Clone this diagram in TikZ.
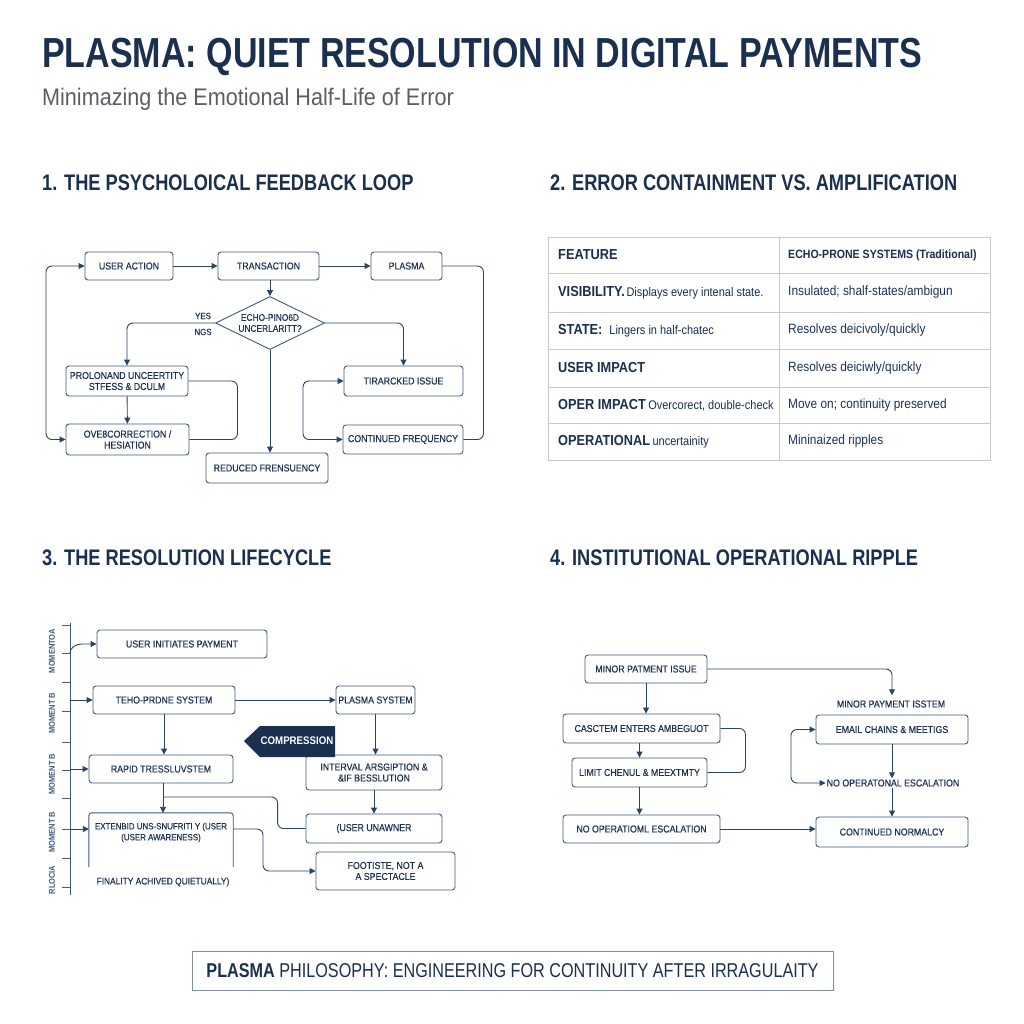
\documentclass[tikz,border=0pt]{standalone}
\usepackage{fontspec}
\setmainfont{Liberation Sans}[FakeStretch=0.88]
\newfontfamily\boxfont{Liberation Sans}[FakeStretch=0.88,FakeBold=0.35]
\newfontfamily\headfont{Liberation Sans}[FakeStretch=0.81]
\newfontfamily\subfont{Liberation Sans}[FakeStretch=0.9]
\usetikzlibrary{arrows.meta,shapes.geometric,calc}
\definecolor{navy}{HTML}{1B2F4E}
\definecolor{boxc}{HTML}{3F5B7F}
\definecolor{arrc}{HTML}{2A4466}
\definecolor{txtc}{HTML}{1E3253}
\definecolor{subc}{HTML}{5A5F66}
\definecolor{tabc}{HTML}{C4CAD2}
\definecolor{footc}{HTML}{7F8EA3}
\tikzset{
  box/.style={draw=boxc, line width=0.9pt, rounded corners=3pt, fill=white, text=txtc,
    font=\boxfont\fontsize{10}{11}\selectfont, align=center, inner sep=2pt},
  arr/.style={draw=arrc, line width=0.9pt, rounded corners=6pt, -{Triangle[length=6pt,width=6pt]}},
  ln/.style={draw=arrc, line width=0.9pt, rounded corners=6pt},
  lbl/.style={text=txtc, font=\boxfont\fontsize{10}{11}\selectfont, align=center, inner sep=1pt},
  heading/.style={anchor=base west, inner sep=0, text=navy, font=\headfont\bfseries\fontsize{22.5}{26}\selectfont},
  tabl/.style={anchor=west, inner sep=0, text=navy},
  tabr/.style={anchor=west, inner sep=0, text=txtc, font=\fontsize{13.5}{15}\selectfont},
  mom/.style={rotate=90, text=boxc, font=\bfseries\fontsize{8.5}{9}\selectfont, inner sep=0},
}
\newcommand{\tb}[1]{{\bfseries\fontsize{14.5}{16}\selectfont #1}}
\newcommand{\tr}[1]{{\fontsize{12.5}{14}\selectfont #1}}
\begin{document}
\begin{tikzpicture}[x=1pt,y=-1pt]
\useasboundingbox (0,0) rectangle (1024,1024);
\fill[white] (0,0) rectangle (1024,1024);

% ---------- title ----------
\node[anchor=base west, inner sep=0, text=navy, font=\headfont\bfseries\fontsize{42}{46}\selectfont] (title) at (42,68) {PLASMA: QUIET RESOLUTION IN DIGITAL PAYMENTS};
\node[anchor=base west, inner sep=0, text=subc, font=\subfont\fontsize{24}{28}\selectfont] (subtitle) at (42,106) {Minimazing the Emotional Half-Life of Error};

\node[heading] (h1) at (42,191) {1. THE PSYCHOLOICAL FEEDBACK LOOP};
\node[heading] (h2) at (550,191) {2. ERROR CONTAINMENT VS. AMPLIFICATION};
\node[heading] (h3) at (42,565) {3. THE RESOLUTION LIFECYCLE};
\node[heading] (h4) at (550,565) {4. INSTITUTIONAL OPERATIONAL RIPPLE};

% ---------- section 1 ----------
\node[box, minimum width=88, minimum height=28] (ua) at (129,266) {USER ACTION};
\node[box, minimum width=101, minimum height=28] (tra) at (268.5,266) {TRANSACTION};
\node[box, minimum width=71, minimum height=28] (pl) at (406.5,266) {PLASMA};
\node[diamond, aspect=2, draw=boxc, line width=0.9pt, fill=white, text=txtc, inner sep=0,
      minimum width=109, minimum height=53, align=center, font=\boxfont\fontsize{9.5}{11}\selectfont] (dm) at (270,323) {ECHO-PINO6D\\UNCERLARITT?};
\node[lbl, font=\boxfont\fontsize{9}{10}\selectfont] (yes) at (203,316) {YES};
\node[lbl, font=\boxfont\fontsize{9}{10}\selectfont] (ngs) at (203,332) {NGS};
\node[box, minimum width=122, minimum height=30] (pr) at (127,381) {PROLONAND UNCEERTITY\\STFESS \& DCULM};
\node[box, minimum width=123, minimum height=31] (ov) at (127.5,439.5) {OVE8CORRECTION /\\HESIATION};
\node[box, minimum width=122, minimum height=30] (rf) at (267,468) {REDUCED FRENSUENCY};
\node[box, minimum width=119, minimum height=30] (ti) at (403.5,381) {TIRARCKED ISSUE};
\node[box, minimum width=120, minimum height=29] (cf) at (403,439.5) {CONTINUED FREQUENCY};

\draw[arr] (ua) -- (tra);
\draw[arr] (tra) -- (pl);
\draw[arr] (tra.south -| dm.north) -- (dm.north);
\draw[arr] (dm.west) -| (pr.north);
\draw[arr] (dm.east) -| (ti.north);
\draw[arr] (dm.south) -- (dm.south |- rf.north);
\draw[arr] (pr) -- (ov);
\draw[ln] (pr.east) -- ++(49,0) |- (ov.east);
\coordinate (ll) at (46,352);
\draw[arr] (ll) |- (ua.west);
\draw[arr] (ll) |- (ov.west);
\draw[ln] (pl.east) -- ++(41,0) |- (cf.east);
\coordinate (ml) at (303,410);
\draw[arr] (ml) |- (ti.west);
\draw[arr] (ml) |- (cf.west);

% ---------- section 2 : table ----------
\draw[tabc, line width=0.8pt] (548,237) rectangle (990,460);
\draw[tabc, line width=0.8pt] (779,237) -- (779,460);
\foreach \yy in {273,312,349,387,423} \draw[tabc, line width=0.8pt] (548,\yy) -- (990,\yy);
\node[tabl] (t1l) at (558,255) {\tb{FEATURE}};
\node[tabl, font=\bfseries\fontsize{12}{14}\selectfont] (t1r) at (788,255) {ECHO-PRONE SYSTEMS (Traditional)};
\node[tabl] (t2l) at (558,292.5) {\tb{VISIBILITY.}\,\tr{Displays every intenal state.}};
\node[tabr] (t2r) at (788,292.5) {Insulated; shalf-states/ambigun};
\node[tabl] (t3l) at (558,330.5) {\tb{STATE:}\hspace{7pt}\tr{Lingers in half-chatec}};
\node[tabr] (t3r) at (788,330.5) {Resolves deicivoly/quickly};
\node[tabl] (t4l) at (558,368) {\tb{USER IMPACT}};
\node[tabr] (t4r) at (788,368) {Resolves deiciwly/quickly};
\node[tabl] (t5l) at (558,405) {\tb{OPER IMPACT} \tr{Overcorect, double-check}};
\node[tabr] (t5r) at (788,405) {Move on; continuity preserved};
\node[tabl] (t6l) at (558,441.5) {\tb{OPERATIONAL} \tr{uncertainity}};
\node[tabr] (t6r) at (788,441.5) {Mininaized ripples};

% ---------- section 3 ----------
\draw[boxc, line width=0.9pt] (70,623) -- (70,895);
\foreach \yy in {625,653,682,711,742,770,798,829,858,887} \draw[boxc, line width=0.9pt] (62,\yy) -- (70,\yy);
\node[mom] (m1) at (52,651) {MOMENTOA};
\node[mom] (m2) at (52,713) {MOMENT B};
\node[mom] (m3) at (52,774) {MOMENT B};
\node[mom] (m4) at (52,832) {MOMENT B};
\node[mom] (m5) at (52,880) {RLOCIA};

\node[box, minimum width=170, minimum height=28] (s3a) at (182,644) {USER INITIATES PAYMENT};
\node[box, minimum width=142, minimum height=28] (s3b) at (164,700) {TEHO-PRDNE SYSTEM};
\node[box, minimum width=79, minimum height=28] (s3c) at (375.5,700) {PLASMA SYSTEM};
\node[box, minimum width=144, minimum height=28] (s3d) at (161,769) {RAPID TRESSLUVSTEM};
\node[box, minimum width=136, minimum height=35] (s3e) at (374,772.5) {INTERVAL ARSGIPTION \&\\\&IF BESSLUTION};
\node[box, minimum width=136, minimum height=29] (s3f) at (374,828.5) {(USER UNAWNER};
\node[box, minimum width=139, minimum height=38] (s3g) at (385.5,871) {FOOTISTE, NOT A\\A SPECTACLE};
\node[minimum width=144, minimum height=54, inner sep=0] (s3h) at (161,840) {};
\draw[draw=boxc, line width=0.9pt, rounded corners=3pt] (s3h.south west) -- (s3h.north west) -- (s3h.north east) -- (s3h.south east);
\node[lbl, font=\boxfont\fontsize{9}{11}\selectfont] (s3ht) at (161,832.5) {EXTENBID UNS-SNUFRITI Y (USER\\(USER AWARENESS)};
\node[lbl, font=\boxfont\fontsize{9.5}{11}\selectfont] (s3fin) at (163,882) {FINALITY ACHIVED QUIETUALLY)};

% compression arrow
\fill[navy] (244,741) -- (260,726) -- (335,726) -- (335,757) -- (260,757) -- cycle;
\node[text=white, font=\bfseries\fontsize{11}{12}\selectfont, inner sep=0] (cmp) at (297,741) {COMPRESSION};

\draw[arr] (s3b) -- (s3c);
\draw[arr] (s3b.south) -- (s3b.south |- s3d.north);
\draw[arr] (s3c.south) -- (s3c.south |- s3e.north);
\draw[arr] (s3e.south -| s3f.north) -- (s3f.north);
\coordinate (j3) at (163,797);
\draw[arr] (s3d.south -| j3) -- (j3 |- s3h.north);
\draw[ln] (j3) -| ($(s3f.west)+(-28,0)$) -- (s3f.west);
\coordinate (s3hx) at (233,829);
\draw[arr] (s3hx) -- ++(30,0) |- (s3g.west);
\coordinate (tl1) at (70,653);
\draw[arr, rounded corners=0pt] (tl1) to[out=90,in=180] (82,644) -- (s3a.west);
\coordinate (tl2) at (70,700);
\draw[arr] (tl2) -- (s3b.west);
\coordinate (tl3) at (70,769);
\draw[arr] (tl3) -- (s3d.west);
\coordinate (tl4) at (70,829);
\draw[arr] (tl4) -- (tl4 -| s3h.west);

% ---------- section 4 ----------
\node[box, minimum width=122, minimum height=28] (s4a) at (646,669) {MINOR PATMENT ISSUE};
\node[box, minimum width=157, minimum height=29] (s4b) at (641.5,728.5) {CASCTEM ENTERS AMBEGUOT};
\node[box, minimum width=135, minimum height=29] (s4c) at (639.5,772.5) {LIMIT CHENUL \& MEEXTMTY};
\node[box, minimum width=157, minimum height=28] (s4d) at (641.5,829) {NO OPERATIOML ESCALATION};
\node[lbl] (s4e) at (891,704) {MINOR PAYMENT ISSTEM};
\node[box, minimum width=152, minimum height=29] (s4f) at (892,729.5) {EMAIL CHAINS \& MEETIGS};
\node[lbl] (s4g) at (893,783) {NO OPERATONAL ESCALATION};
\node[box, minimum width=152, minimum height=30] (s4h) at (892,832) {CONTINUED NORMALCY};

\draw[arr] (s4a.east) -| ($(s4e.north)+(1,-4)$);
\draw[arr] (s4a.south) -- (s4a.south |- s4b.north);
\draw[arr] (s4c.north |- s4b.south) -- (s4c.north);
\draw[ln] (s4b.east) -- ++(25,0) |- (s4c.east);
\draw[arr] (s4c.south) -- (s4c.south |- s4d.north);
\draw[arr] (s4d.east) -- (s4d.east -| s4h.west);
\draw[arr] (s4f.south) -- (s4f.south |- s4g.north);
\draw[arr] (s4g.south -| s4h.north) -- (s4h.north);
\coordinate (l4) at (791,756);
\draw[arr] (l4) |- (s4f.west);
\draw[arr] (l4) |- (s4g.west);

% ---------- footer ----------
\node[draw=footc, line width=0.9pt, minimum width=641, minimum height=39, inner sep=0] (foot) at (512.5,970.5) {};
\node[text=navy, font=\headfont\fontsize{20}{22}\selectfont, inner sep=0] (foottxt) at (512.5,970.5) {{\bfseries PLASMA} PHILOSOPHY: ENGINEERING FOR CONTINUITY AFTER IRRAGULAITY};
\end{tikzpicture}
\end{document}
